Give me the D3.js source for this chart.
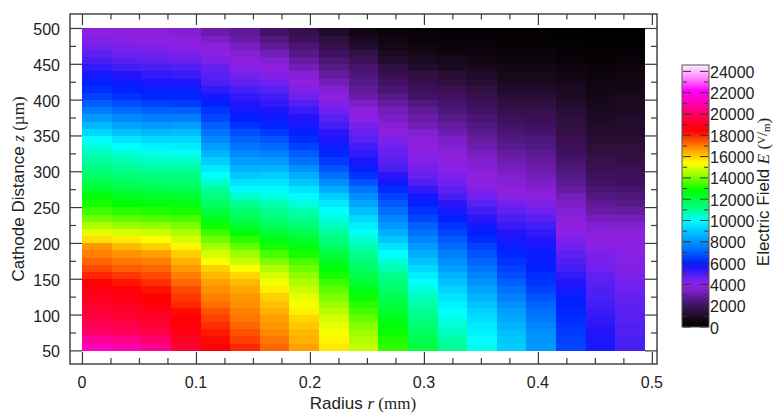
<!DOCTYPE html>
<html>
<head>
<meta charset="utf-8">
<script src="https://cdn.jsdelivr.net/npm/d3@7"></script>
<style>
  html, body { margin: 0; padding: 0; background: #ffffff; }
  svg { display: block; }
</style>
</head>
<body>
<svg id="chart" width="777" height="413"></svg>
<script>
// Radial bin edges (mm) and axial bin edges (µm) of the field map
const rEdges = [0, 0.026, 0.052, 0.078, 0.104, 0.130, 0.156, 0.182, 0.208, 0.234,
                0.260, 0.286, 0.312, 0.338, 0.364, 0.390, 0.416, 0.442, 0.468, 0.494];
const zEdges = [50, 60, 70, 80, 90, 100, 110, 120, 130, 140, 150, 160, 170, 180, 190,
                200, 210, 220, 230, 240, 250, 260, 270, 280, 290, 300, 310, 320, 330,
                340, 350, 360, 370, 380, 390, 400, 410, 420, 430, 440, 450, 460, 470,
                480, 490, 500];

// Electric field |E| (V/m), one array per radial bin, ordered from z = 50 µm up to 500 µm
const eCol00 = [21300, 20700, 20100, 19800, 19600, 19400, 19200, 18900, 18700, 18500,
                18000, 17600, 17300, 17000, 16700, 15800, 15100, 14500, 13900, 13400,
                13000, 12700, 12200, 11900, 11500, 11200, 10900, 10600, 10300, 10000,
                9300, 8700, 8100, 7500, 7000, 6500, 6200, 6000, 5700, 5300,
                5000, 4700, 4400, 4200, 4000];
const eCol01 = [21000, 20500, 20000, 19700, 19400, 19200, 19000, 18700, 18500, 18200,
                17800, 17400, 17100, 16800, 16300, 15600, 14900, 14300, 13700, 13200,
                12800, 12400, 12000, 11700, 11300, 11000, 10700, 10400, 10000, 9500,
                8900, 8300, 7800, 7200, 6700, 6300, 6000, 5800, 5500, 5100,
                4800, 4500, 4300, 4100, 3900];
const eCol02 = [20600, 20100, 19700, 19400, 19200, 18900, 18700, 18400, 18200, 17900,
                17600, 17300, 17000, 16600, 16000, 15400, 14800, 14200, 13600, 13100,
                12700, 12300, 11900, 11500, 11200, 10900, 10500, 10200, 9800, 9300,
                8700, 8100, 7600, 7000, 6500, 6100, 5900, 5600, 5300, 5000,
                4700, 4400, 4200, 4000, 3800];
const eCol03 = [19300, 19000, 18800, 18600, 18500, 18300, 18000, 17800, 17600, 17300,
                17000, 16700, 16400, 16000, 15500, 14900, 14500, 14000, 13500, 13000,
                12600, 12200, 11800, 11500, 11200, 10900, 10500, 10100, 9700, 9300,
                8800, 8200, 7600, 7000, 6400, 6100, 5900, 5600, 5200, 4900,
                4600, 4300, 4100, 3900, 3600];
const eCol04 = [18600, 18300, 18100, 17900, 17700, 17500, 17200, 17000, 16800, 16600,
                16300, 16000, 15400, 14900, 14400, 13900, 13400, 12900, 12400, 12000,
                11600, 11200, 10900, 10500, 10000, 9600, 9100, 8600, 8200, 7800,
                7400, 7000, 6600, 6300, 6000, 5700, 5300, 5000, 4800, 4600,
                4300, 4000, 3800, 3400, 3000];
const eCol05 = [18000, 17700, 17500, 17300, 17100, 17000, 16800, 16700, 16500, 16300,
                15900, 15400, 14800, 14300, 13800, 13200, 12700, 12200, 11800, 11400,
                11000, 10500, 9900, 9500, 9000, 8600, 8200, 7800, 7400, 7100,
                6700, 6300, 6000, 5800, 5500, 5300, 5000, 4700, 4400, 4100,
                3900, 3600, 3300, 3000, 2800];
const eCol06 = [17300, 17100, 16900, 16700, 16600, 16400, 16200, 16000, 15600, 15300,
                14900, 14500, 14000, 13500, 13000, 12500, 12100, 11700, 11300, 11000,
                10700, 10300, 9900, 9500, 9100, 8600, 8100, 7600, 7200, 6800,
                6400, 6100, 5800, 5600, 5300, 5100, 4800, 4500, 4200, 4000,
                3600, 3200, 2800, 2500, 2100];
const eCol07 = [16600, 16400, 16300, 16100, 15900, 15600, 15300, 15100, 14800, 14500,
                14200, 13900, 13500, 13000, 12600, 12200, 11800, 11400, 11000, 10700,
                10300, 9900, 9500, 9000, 8500, 7900, 7300, 6900, 6500, 6200,
                5900, 5700, 5500, 5200, 4900, 4500, 4200, 4000, 3700, 3200,
                2900, 2600, 2300, 2000, 1700];
const eCol08 = [15700, 15500, 15300, 15100, 14900, 14600, 14300, 14000, 13700, 13400,
                13000, 12700, 12400, 12000, 11600, 11200, 10900, 10600, 10300, 10000,
                9600, 9100, 8500, 7900, 7300, 6800, 6400, 6100, 5800, 5600,
                5400, 5100, 4800, 4500, 4200, 4000, 3600, 3200, 2900, 2600,
                2300, 2000, 1700, 1400, 1100];
const eCol09 = [14700, 14500, 14300, 14100, 13800, 13500, 13200, 12900, 12500, 12200,
                11900, 11600, 11300, 11000, 10700, 10400, 10100, 9700, 9300, 8800,
                8300, 7900, 7400, 6800, 6300, 5900, 5600, 5300, 5100, 4800,
                4600, 4400, 4100, 3900, 3400, 3000, 2800, 2600, 2400, 2200,
                1900, 1600, 1200, 900, 600];
const eCol10 = [13300, 13100, 12900, 12700, 12500, 12200, 12000, 11800, 11500, 11300,
                11000, 10700, 10400, 10000, 9500, 9000, 8500, 8100, 7700, 7300,
                6900, 6500, 6200, 5700, 5400, 5000, 4800, 4600, 4500, 4300,
                4000, 3700, 3400, 3200, 2900, 2600, 2300, 2100, 1800, 1500,
                1200, 1000, 700, 500, 300];
const eCol11 = [12000, 11800, 11600, 11400, 11200, 11000, 10800, 10600, 10300, 10000,
                9700, 9300, 8900, 8500, 8100, 7700, 7300, 7000, 6600, 6300,
                6000, 5700, 5300, 4900, 4600, 4400, 4200, 4100, 4000, 3800,
                3500, 3200, 3000, 2800, 2500, 2100, 1900, 1700, 1500, 1200,
                1000, 700, 500, 300, 200];
const eCol12 = [11000, 10800, 10600, 10400, 10200, 10000, 9800, 9500, 9200, 8900,
                8600, 8200, 7900, 7600, 7200, 6900, 6600, 6300, 6000, 5700,
                5400, 5000, 4700, 4500, 4300, 4100, 4000, 3800, 3600, 3400,
                3100, 2900, 2600, 2400, 2200, 2000, 1800, 1500, 1300, 1000,
                800, 500, 350, 250, 150];
const eCol13 = [10200, 10000, 9800, 9600, 9400, 9200, 8900, 8600, 8300, 8000,
                7700, 7400, 7100, 6800, 6500, 6200, 6000, 5700, 5400, 5100,
                4800, 4500, 4200, 4000, 3900, 3700, 3500, 3300, 3100, 2900,
                2700, 2500, 2300, 2100, 1900, 1700, 1500, 1300, 1100, 800,
                600, 400, 300, 200, 100];
const eCol14 = [9100, 9000, 8800, 8600, 8400, 8200, 7900, 7600, 7300, 7000,
                6700, 6500, 6300, 6100, 5900, 5700, 5500, 5200, 5000, 4700,
                4400, 4100, 3900, 3700, 3500, 3300, 3100, 2900, 2700, 2500,
                2300, 2100, 1900, 1700, 1500, 1300, 1100, 1000, 800, 600,
                450, 300, 200, 150, 100];
const eCol15 = [8100, 8000, 7900, 7700, 7500, 7300, 7100, 6800, 6500, 6300,
                6200, 6000, 5900, 5800, 5700, 5500, 5300, 5100, 4800, 4500,
                4200, 3900, 3600, 3400, 3200, 3000, 2900, 2700, 2500, 2400,
                2200, 2000, 1800, 1700, 1500, 1300, 1100, 1000, 800, 600,
                400, 300, 200, 120, 80];
const eCol16 = [6600, 6500, 6400, 6300, 6200, 6100, 6000, 5900, 5700, 5500,
                5300, 5100, 4900, 4700, 4500, 4300, 4100, 4000, 3800, 3600,
                3400, 3200, 2900, 2700, 2600, 2400, 2200, 2000, 1900, 1800,
                1600, 1500, 1400, 1300, 1200, 1000, 900, 750, 600, 450,
                300, 200, 130, 90, 60];
const eCol17 = [5700, 5600, 5500, 5400, 5300, 5200, 5100, 5000, 4900, 4800,
                4700, 4500, 4400, 4300, 4100, 4000, 3800, 3600, 3300, 3000,
                2800, 2500, 2300, 2100, 2000, 1800, 1700, 1500, 1400, 1300,
                1200, 1100, 1000, 900, 800, 700, 600, 500, 400, 300,
                200, 130, 90, 60, 40];
const eCol18 = [5000, 5000, 4900, 4900, 4800, 4800, 4700, 4600, 4500, 4400,
                4300, 4200, 4200, 4100, 4100, 4000, 3800, 3500, 3200, 2900,
                2600, 2400, 2200, 2000, 1900, 1800, 1600, 1500, 1400, 1300,
                1200, 1200, 1100, 1000, 950, 850, 700, 600, 500, 400,
                250, 150, 100, 50, 30];

const fieldColumns = [eCol00, eCol01, eCol02, eCol03, eCol04, eCol05, eCol06, eCol07,
                      eCol08, eCol09, eCol10, eCol11, eCol12, eCol13, eCol14, eCol15,
                      eCol16, eCol17, eCol18];

// Axis ticks
const xMajorTicks = [0, 0.1, 0.2, 0.3, 0.4, 0.5];
const xMinorTicks = [0.025, 0.05, 0.075, 0.125, 0.15, 0.175, 0.225, 0.25, 0.275,
                     0.325, 0.35, 0.375, 0.425, 0.45, 0.475];
const yMajorTicks = [50, 100, 150, 200, 250, 300, 350, 400, 450, 500];
const yMinorTicks = [75, 125, 175, 225, 275, 325, 375, 425, 475];
const barMajorTicks = [0, 2000, 4000, 6000, 8000, 10000, 12000, 14000, 16000, 18000,
                       20000, 22000, 24000];
const barMinorTicks = [1000, 3000, 5000, 7000, 9000, 11000, 13000, 15000, 17000,
                       19000, 21000, 23000];

// Colour palette: field value -> colour
const paletteStops = [0, 500, 1000, 1500, 2000, 2500, 3000, 3500, 4000, 4500, 5000,
                      5500, 6000, 7000, 8000, 9000, 10000, 11000, 12000, 12800, 13600,
                      14500, 15400, 16200, 17000, 17700, 18400, 19300, 20000, 20800,
                      21500, 22200, 23300, 24600];
const paletteColors = ["#000000", "#100510", "#1c0a24", "#301040", "#401060", "#501880",
                       "#6a1ca8", "#8020d0", "#9020e0", "#7020f0", "#4820f4", "#2414fc",
                       "#0020ff", "#0060ff", "#0094ff", "#00c8ff", "#00ffff", "#00ff90",
                       "#00ff40", "#00ff00", "#50ff00", "#b0ff00", "#ffff00", "#ffc000",
                       "#ff8000", "#ff4000", "#ff0000", "#ff0030", "#ff0060", "#ff00a0",
                       "#ff00d0", "#ff00ff", "#ff80ff", "#fff0ff"];
const barMax = 24600;

const sans = "'Liberation Sans', Arial, Helvetica, sans-serif";
const serif = "'Liberation Serif', 'Times New Roman', serif";
const ink = "#222";
const frameInk = "#3a3a3a";

const svg = d3.select("#chart");

const x = d3.scaleLinear().domain([-0.0105, 0.5045]).range([70, 657]);
const y = d3.scaleLinear().domain([31, 519.5]).range([364, 14]);
const color = d3.scaleLinear().domain(paletteStops).range(paletteColors).clamp(true);

// Field cells
const cells = [];
fieldColumns.forEach((col, j) => {
  col.forEach((v, i) => {
    cells.push({ r0: rEdges[j], r1: rEdges[j + 1], z0: zEdges[i], z1: zEdges[i + 1], v });
  });
});

svg.append("g")
  .selectAll("rect")
  .data(cells)
  .join("rect")
  .attr("x", d => x(d.r0))
  .attr("y", d => y(d.z1))
  .attr("width", d => x(d.r1) - x(d.r0) + 0.4)
  .attr("height", d => y(d.z0) - y(d.z1) + 0.4)
  .attr("fill", d => color(d.v))
  .attr("shape-rendering", "crispEdges");

// Ticks on all four sides, pointing inwards
function tickAxis(axis, values, size, transform) {
  const g = svg.append("g")
    .attr("transform", transform)
    .call(axis.tickValues(values).tickSize(size).tickFormat(""));
  g.select(".domain").remove();
  g.selectAll("line").attr("stroke", frameInk).attr("stroke-width", 1.2);
}
tickAxis(d3.axisTop(x), xMajorTicks, 12, "translate(0,364)");
tickAxis(d3.axisTop(x), xMinorTicks, 6, "translate(0,364)");
tickAxis(d3.axisBottom(x), xMajorTicks, 11, "translate(0,14)");
tickAxis(d3.axisBottom(x), xMinorTicks, 5.5, "translate(0,14)");
tickAxis(d3.axisRight(y), yMajorTicks, 12, "translate(70,0)");
tickAxis(d3.axisRight(y), yMinorTicks, 6, "translate(70,0)");
tickAxis(d3.axisLeft(y), yMajorTicks, 12, "translate(657,0)");
tickAxis(d3.axisLeft(y), yMinorTicks, 6, "translate(657,0)");

// Frame
svg.append("rect")
  .attr("x", x.range()[0]).attr("y", y.range()[1])
  .attr("width", x.range()[1] - x.range()[0])
  .attr("height", y.range()[0] - y.range()[1])
  .attr("fill", "none")
  .attr("stroke", frameInk)
  .attr("stroke-width", 1.4);

// Tick labels
svg.append("g")
  .selectAll("text")
  .data(xMajorTicks)
  .join("text")
  .attr("x", d => x(d))
  .attr("y", 388)
  .attr("text-anchor", "middle")
  .attr("font-family", sans)
  .attr("font-size", 16)
  .attr("fill", ink)
  .text(d => d3.format("~g")(d));

svg.append("g")
  .selectAll("text")
  .data(yMajorTicks)
  .join("text")
  .attr("x", 60)
  .attr("y", d => y(d) + 7)
  .attr("text-anchor", "end")
  .attr("font-family", sans)
  .attr("font-size", 16)
  .attr("fill", ink)
  .text(d => d);

// Axis titles
const xTitle = svg.append("text")
  .attr("x", 363).attr("y", 409)
  .attr("text-anchor", "middle")
  .attr("font-family", sans)
  .attr("font-size", 17)
  .attr("fill", ink);
xTitle.append("tspan").text("Radius ");
xTitle.append("tspan").attr("font-family", serif).attr("font-style", "italic").text("r");
xTitle.append("tspan").attr("font-family", serif).text(" (mm)");

const yTitle = svg.append("text")
  .attr("transform", "translate(24,189) rotate(-90)")
  .attr("text-anchor", "middle")
  .attr("font-family", sans)
  .attr("font-size", 17)
  .attr("fill", ink);
yTitle.append("tspan").text("Cathode Distance ");
yTitle.append("tspan").attr("font-family", serif).attr("font-style", "italic").text("z");
yTitle.append("tspan").attr("font-family", serif).text(" (µm)");

// Colour bar
const barX = 682, barW = 27;
const cb = d3.scaleLinear().domain([0, barMax]).range([327, 65]);

const grad = svg.append("defs").append("linearGradient")
  .attr("id", "fieldGradient")
  .attr("x1", 0).attr("y1", 1).attr("x2", 0).attr("y2", 0);
grad.selectAll("stop")
  .data(paletteStops)
  .join("stop")
  .attr("offset", d => d / barMax)
  .attr("stop-color", (d, i) => paletteColors[i]);

svg.append("rect")
  .attr("x", barX).attr("y", cb(barMax))
  .attr("width", barW).attr("height", cb(0) - cb(barMax))
  .attr("fill", "url(#fieldGradient)")
  .attr("stroke", "#555")
  .attr("stroke-width", 1);

function barTicks(values, len) {
  const g = svg.append("g");
  g.selectAll("line.l").data(values).join("line").attr("class", "l")
    .attr("x1", barX + 1).attr("x2", barX + 1 + len)
    .attr("y1", d => cb(d)).attr("y2", d => cb(d));
  g.selectAll("line.r").data(values).join("line").attr("class", "r")
    .attr("x1", barX + barW - 1 - len).attr("x2", barX + barW - 1)
    .attr("y1", d => cb(d)).attr("y2", d => cb(d));
  g.selectAll("line").attr("stroke", "#333").attr("stroke-width", 1);
}
barTicks(barMajorTicks, 8);
barTicks(barMinorTicks, 4);

svg.append("g")
  .selectAll("text")
  .data(barMajorTicks)
  .join("text")
  .attr("x", barX + barW + 1)
  .attr("y", d => cb(d) + 6.5)
  .attr("font-family", sans)
  .attr("font-size", 16)
  .attr("fill", ink)
  .text(d => d);

const barTitle = svg.append("text")
  .attr("transform", "translate(769,192) rotate(-90)")
  .attr("text-anchor", "middle")
  .attr("font-family", sans)
  .attr("font-size", 17)
  .attr("fill", ink);
barTitle.append("tspan").text("Electric Field ");
barTitle.append("tspan").attr("font-family", serif).attr("font-style", "italic").text("E");
barTitle.append("tspan").attr("font-family", serif).text(" (");
barTitle.append("tspan").attr("font-family", serif).attr("font-size", 11).attr("dy", -4).text("V");
barTitle.append("tspan").attr("font-family", serif).attr("font-size", 14).attr("dy", 2).text("/");
barTitle.append("tspan").attr("font-family", serif).attr("font-size", 11).attr("dy", 3).text("m");
barTitle.append("tspan").attr("font-family", serif).attr("dy", -1).text(")");
</script>
</body>
</html>
